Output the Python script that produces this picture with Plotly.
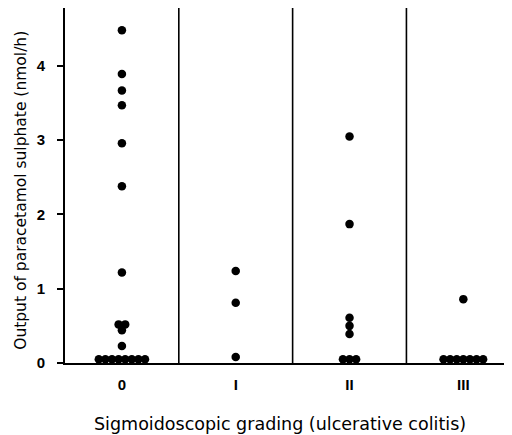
import plotly.graph_objects as go

# ---- data ----
grade_labels = ["0", "I", "II", "III"]
grade_pos = [0, 1, 2, 3]
grade0_values = [4.48, 3.89, 3.67, 3.47, 2.96, 2.38, 1.22, 0.52, 0.52, 0.44, 0.23,
                 0.05, 0.05, 0.05, 0.05, 0.05, 0.05, 0.05, 0.05]
grade1_values = [1.24, 0.81, 0.08]
grade2_values = [3.05, 1.87, 0.61, 0.50, 0.39, 0.05, 0.05, 0.05]
grade3_values = [0.86, 0.05, 0.05, 0.05, 0.05, 0.05, 0.05, 0.05]
y_ticks = [0, 1, 2, 3, 4]
separators = [0.5, 1.5, 2.5]

groups = [grade0_values, grade1_values, grade2_values, grade3_values]

SPREAD = 0.058  # horizontal spacing between tied dots (x units)

xs, ys = [], []
for pos, vals in zip(grade_pos, groups):
    counts = {}
    for v in vals:
        counts[v] = counts.get(v, 0) + 1
    for v, n in counts.items():
        for k in range(n):
            xs.append(pos + (k - (n - 1) / 2) * SPREAD)
            ys.append(v)

FONT = "Liberation Sans, Arial, Helvetica, sans-serif"
TFONT = "DejaVu Sans, Verdana, sans-serif"

fig = go.Figure()
fig.add_trace(go.Scatter(
    x=xs, y=ys, mode="markers",
    marker=dict(color="black", size=8.5, line=dict(width=0)),
    showlegend=False, hoverinfo="skip", cliponaxis=False,
))

for s in separators:
    fig.add_shape(type="line", xref="x", yref="paper", x0=s, x1=s, y0=0, y1=1,
                  line=dict(color="black", width=1.6))

fig.update_layout(
    width=512, height=435,
    margin=dict(l=57, r=10, t=0, b=80, pad=0),
    paper_bgcolor="white", plot_bgcolor="white",
    font=dict(family=FONT, color="black"),
    xaxis=dict(
        range=[-0.5, 3.41], showgrid=False, zeroline=False,
        showline=True, linecolor="black", linewidth=2,
        tickvals=grade_pos, ticktext=grade_labels, ticks="",
        ticklabelstandoff=7,
        tickfont=dict(family=FONT, size=15, weight="bold", color="black"),
    ),
    yaxis=dict(
        range=[0, 4.78], showgrid=False, zeroline=False,
        showline=True, linecolor="black", linewidth=1.8,
        tickvals=y_ticks, ticks="outside", ticklen=6, tickwidth=1.5,
        tickcolor="black", ticklabelstandoff=9,
        tickfont=dict(family=FONT, size=15, weight="bold", color="black"),
    ),
    annotations=[
        dict(text="Sigmoidoscopic grading (ulcerative colitis)",
             xref="paper", yref="paper", x=0.483, y=0, yshift=-61,
             xanchor="center", yanchor="middle", showarrow=False,
             font=dict(family=TFONT, size=17.5, color="black")),
        dict(text="Output of paracetamol sulphate (nmol/h)",
             xref="paper", yref="paper", x=0, y=0.485, xshift=-44,
             xanchor="center", yanchor="middle", textangle=-90, showarrow=False,
             font=dict(family=TFONT, size=15.5, color="black")),
    ],
)

fig.write_html("out.html")
